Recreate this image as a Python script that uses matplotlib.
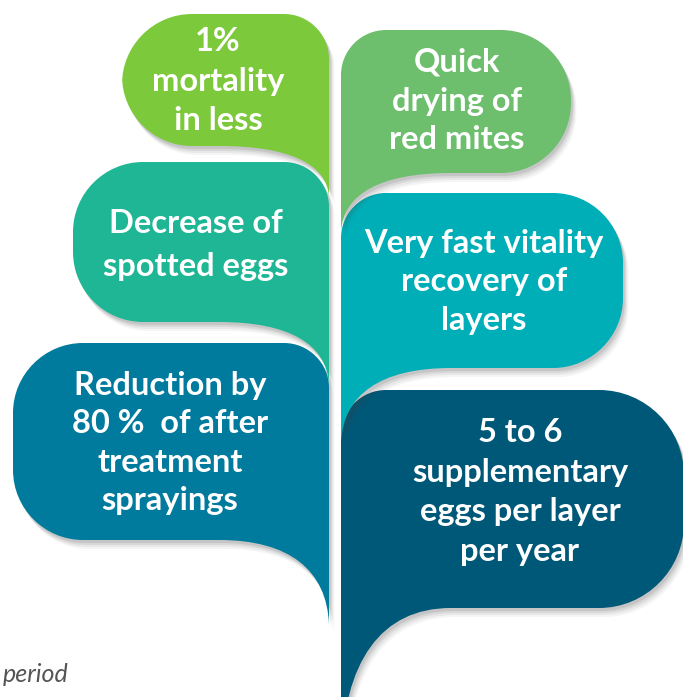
import matplotlib.pyplot as plt
from matplotlib.path import Path
from matplotlib.patches import PathPatch

# bubble texts, colours and geometry (pixels, y grows downwards)
labels = [
    "5 to 6\nsupplementary\neggs per layer\nper year",
    "Reduction by\n80 %  of after\ntreatment\nsprayings",
    "Very fast vitality\nrecovery of\nlayers",
    "Decrease of\nspotted eggs",
    "Quick\ndrying of\nred mites",
    "1%\nmortality\nin less",
]
colors = ["#005878", "#007a9d", "#00aeb7", "#1fb696", "#6dbf6e", "#7dc93c"]
stem_x = [341, 329, 341, 329, 341, 329]
outer_x = [684, 13, 623, 73, 571, 122]
top_y = [390, 343, 193, 162, 30, 14]
bottom_y = [608, 540, 368, 322, 173, 146]
tail_y = [760, 625, 443, 385, 232, 197]
text_x = [520, 170, 484, 196, 457, 218]
text_y = [492, 443, 282, 245, 101, 81]
line_gap = [1.44, 1.38, 1.4, 1.6, 1.4, 1.44]


def bubble_path(sx, ox, top, bot, tail, r=70):
    d = 1 if ox > sx else -1
    rs = 45
    k = 0.55
    verts = [
        (sx, tail),
        (sx, top + rs),
        (sx, top + rs * (1 - k)), (sx + d * rs * (1 - k), top), (sx + d * rs, top),
        (ox - d * r, top),
        (ox - d * r * (1 - k), top), (ox, top + r * (1 - k)), (ox, top + r),
        (ox, bot - r),
        (ox, bot - r * (1 - k)), (ox - d * r * (1 - k), bot), (ox - d * r, bot),
        (sx + d * 110, bot),
        (sx + d * 40, bot), (sx + d * 2, bot + (tail - bot) * 0.35), (sx, tail),
    ]
    codes = [Path.MOVETO, Path.LINETO,
             Path.CURVE4, Path.CURVE4, Path.CURVE4,
             Path.LINETO,
             Path.CURVE4, Path.CURVE4, Path.CURVE4,
             Path.LINETO,
             Path.CURVE4, Path.CURVE4, Path.CURVE4,
             Path.LINETO,
             Path.CURVE4, Path.CURVE4, Path.CURVE4]
    return Path(verts, codes)


fig = plt.figure(figsize=(6.83, 6.97), dpi=100)
ax = fig.add_axes([0, 0, 1, 1])
ax.set_xlim(0, 683)
ax.set_ylim(697, 0)
ax.axis("off")

for i in range(len(labels)):
    path = bubble_path(stem_x[i], outer_x[i], top_y[i], bottom_y[i], tail_y[i],
                       r=85 if i == 0 else 70)
    # soft grey shadow
    for off, a in [(9, 0.05), (7, 0.07), (5, 0.09), (3, 0.12)]:
        sh = Path(path.vertices + [off * 0.6, off], path.codes)
        ax.add_patch(PathPatch(sh, facecolor="#404040", edgecolor="none", alpha=a))
    ax.add_patch(PathPatch(path, facecolor=colors[i], edgecolor="none"))
    ax.text(text_x[i], text_y[i], labels[i], color="white", fontsize=23.5,
            fontweight="bold", family="Lato", ha="center", va="center",
            linespacing=line_gap[i])

ax.text(3, 674, "period", color="#555555", fontsize=18, style="italic",
        family="Lato", ha="left", va="center")

fig.savefig("out.png", dpi=100)
